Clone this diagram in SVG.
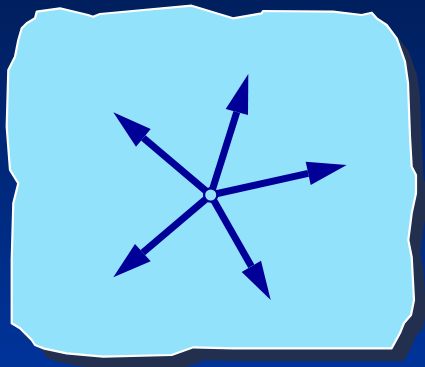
<svg xmlns="http://www.w3.org/2000/svg" width="425" height="367" viewBox="0 0 425 367">
<defs>
<linearGradient id="bg" x1="0" y1="0" x2="0" y2="1">
<stop offset="0" stop-color="#001f5e"/>
<stop offset="1" stop-color="#00339a"/>
</linearGradient>
<path id="paper" d="M36.7,11.7 L60,8.3 L88,15 L93,16.7 L100,14 L191.7,5.7 L233,18.3 L261.7,13.3 L263,11 L333,11.7 L361.7,15 L371.7,12.7 L376.7,18.3 L386.7,25 L396.7,38.3 L405,61.7 L408,83 L410,136.7 L411.7,166.7 L416,175 L416,193.3 L411.7,213.3 L408.3,240 L411.7,257 L414,300 L411,315 L404,323 L400,333 L391.7,348.3 L233.3,348.3 L193.3,347.3 L171.7,355 L103.3,356.7 L66.7,353.3 L43.3,348.3 L35,345 L31.7,340 L25,333.3 L20,328.3 L11.7,323.3 L11.7,260 L13.3,203.3 L18.3,183.3 L10,170 L6.7,126.7 L8.3,70 L15,56.7 L18.3,40 L21.7,28.3 L26.7,23.3 L35,18.3 Z"/>
</defs>
<style>
.shaft{stroke:#000099;stroke-width:7;fill:none}
.head{fill:#000099;stroke:none}
.hub{fill:#92e2fc;stroke:#000099;stroke-width:2.2}
</style>
<rect x="0" y="0" width="425" height="367" fill="url(#bg)"/>
<use href="#paper" transform="translate(12,13)" fill="#232f4f"/>
<use href="#paper" fill="#92e2fc" stroke="#ffffff" stroke-width="2.2" stroke-linejoin="round"/>
<g id="connectors">
<line class="shaft" x1="210.7" y1="195" x2="236.8" y2="112"/>
<line class="shaft" x1="210.7" y1="195" x2="143.3" y2="137.8"/>
<line class="shaft" x1="210.7" y1="195" x2="308.2" y2="173.3"/>
<line class="shaft" x1="210.7" y1="195" x2="142.8" y2="252.7"/>
<line class="shaft" x1="210.7" y1="195" x2="251.3" y2="266.3"/>
<polygon class="head" points="248.3,74 225.7,109 248,115"/>
<polygon class="head" points="113.3,112.3 150.7,129 136,146.7"/>
<polygon class="head" points="346.7,165 305.7,161.7 310.7,185"/>
<polygon class="head" points="113.3,277.3 135,244 150.7,261.3"/>
<polygon class="head" points="270.7,300 241.7,272 261,260.7"/>
</g>
<g id="hub">
<circle class="hub" cx="210.7" cy="195" r="6.6"/>
</g>
</svg>
